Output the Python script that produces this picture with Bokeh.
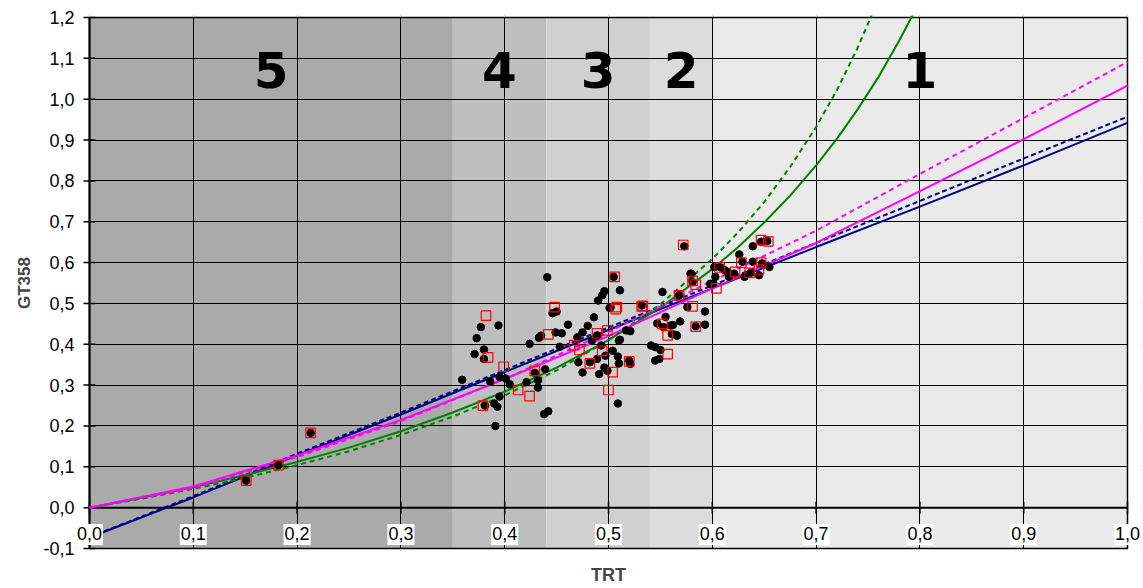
import math
from bokeh.plotting import figure
from bokeh.models import Range1d, FixedTicker, Label, CustomJSTickFormatter
from bokeh.embed import file_html
from bokeh.resources import INLINE

# ---------------- data ----------------
x_ticks = [0.0, 0.1, 0.2, 0.3, 0.4, 0.5, 0.6, 0.7, 0.8, 0.9, 1.0]
x_tick_labels = ["0,0", "0,1", "0,2", "0,3", "0,4", "0,5", "0,6", "0,7", "0,8", "0,9", "1,0"]
y_ticks = [-0.1, 0.0, 0.1, 0.2, 0.3, 0.4, 0.5, 0.6, 0.7, 0.8, 0.9, 1.0, 1.1, 1.2]
y_tick_labels = ["-0,1", "0,0", "0,1", "0,2", "0,3", "0,4", "0,5", "0,6", "0,7", "0,8", "0,9", "1,0", "1,1", "1,2"]

zone_edges = [0.0, 0.35, 0.44, 0.54, 0.60, 1.0]
zone_names = ["5", "4", "3", "2", "1"]

black_x = [0.151, 0.182, 0.213,
           0.359, 0.377, 0.394, 0.373, 0.380, 0.371, 0.380, 0.395, 0.401, 0.386, 0.405, 0.421, 0.432,
           0.439, 0.432, 0.395, 0.390, 0.393, 0.391, 0.438, 0.442, 0.424, 0.433, 0.435, 0.441, 0.446,
           0.450, 0.449, 0.455, 0.453, 0.381, 0.429,
           0.461, 0.470, 0.475, 0.480, 0.486, 0.471, 0.475, 0.482, 0.491, 0.489, 0.496, 0.497, 0.493,
           0.484, 0.489, 0.496, 0.494, 0.490, 0.511, 0.505, 0.501, 0.504, 0.509, 0.510, 0.510, 0.517,
           0.521, 0.521, 0.520, 0.499, 0.509, 0.532, 0.541, 0.545, 0.550, 0.549, 0.545, 0.552, 0.553,
           0.560, 0.561, 0.566, 0.569, 0.502, 0.511, 0.547, 0.562, 0.555, 0.565,
           0.573, 0.579, 0.576, 0.581, 0.593, 0.593, 0.584, 0.568, 0.598, 0.602, 0.608, 0.615, 0.621,
           0.626, 0.629, 0.639, 0.647, 0.639, 0.631, 0.645, 0.655, 0.648, 0.637, 0.653, 0.612, 0.603,
           0.616, 0.601, 0.580]
black_y = [0.066, 0.104, 0.183,
           0.313, 0.442, 0.446, 0.415, 0.387, 0.376, 0.364, 0.320, 0.316, 0.309, 0.302, 0.307, 0.312,
           0.339, 0.294, 0.272, 0.255, 0.247, 0.200, 0.229, 0.236, 0.401, 0.416, 0.421, 0.564, 0.476,
           0.480, 0.429, 0.427, 0.394, 0.250, 0.330,
           0.448, 0.417, 0.429, 0.445, 0.466, 0.356, 0.331, 0.356, 0.327, 0.364, 0.343, 0.372, 0.397,
           0.409, 0.421, 0.530, 0.520, 0.507, 0.532, 0.565, 0.489, 0.384, 0.370, 0.353, 0.409, 0.434,
           0.432, 0.352, 0.360, 0.335, 0.255, 0.495, 0.397, 0.393, 0.386, 0.364, 0.360, 0.528, 0.442,
           0.446, 0.425, 0.421, 0.456, 0.490, 0.411, 0.451, 0.447, 0.467, 0.423,
           0.640, 0.573, 0.491, 0.552, 0.480, 0.448, 0.444, 0.520, 0.548, 0.589, 0.588, 0.577, 0.573,
           0.620, 0.602, 0.640, 0.651, 0.602, 0.565, 0.569, 0.589, 0.598, 0.575, 0.653, 0.581, 0.565,
           0.565, 0.549, 0.572]

red_x = [0.151, 0.182, 0.213,
         0.382, 0.448, 0.442, 0.384, 0.399, 0.429, 0.413, 0.424, 0.379, 0.467, 0.472, 0.489, 0.499,
         0.494, 0.482, 0.504, 0.500, 0.506, 0.508, 0.507, 0.520, 0.532, 0.552, 0.557, 0.557, 0.572,
         0.568, 0.581, 0.584, 0.581, 0.584, 0.604, 0.607, 0.622, 0.628, 0.636, 0.645, 0.647, 0.647,
         0.654, 0.533]
red_y = [0.066, 0.104, 0.183,
         0.470, 0.491, 0.424, 0.368, 0.345, 0.335, 0.288, 0.273, 0.250, 0.398, 0.386, 0.427, 0.434,
         0.384, 0.353, 0.332, 0.288, 0.565, 0.491, 0.486, 0.358, 0.493, 0.450, 0.422, 0.376, 0.643,
         0.520, 0.493, 0.443, 0.555, 0.546, 0.537, 0.588, 0.577, 0.600, 0.575, 0.583, 0.600, 0.655,
         0.652, 0.494]

line_x = [0.0, 0.1, 0.2, 0.3, 0.4, 0.5, 0.6, 0.7, 0.8, 0.9, 1.0]
navy_solid = [-0.073, 0.025, 0.128, 0.228, 0.332, 0.435, 0.537, 0.638, 0.737, 0.838, 0.942]
navy_dash = [-0.072, 0.028, 0.132, 0.233, 0.337, 0.441, 0.544, 0.648, 0.751, 0.855, 0.957]
magenta_solid = [0.0, 0.052, 0.128, 0.215, 0.315, 0.420, 0.537, 0.648, 0.775, 0.902, 1.033]
magenta_dash = [0.0, 0.048, 0.124, 0.212, 0.315, 0.430, 0.555, 0.678, 0.817, 0.954, 1.091]

green_x = [0.0, 0.05, 0.1, 0.15, 0.2, 0.25, 0.3, 0.35, 0.4, 0.45, 0.5, 0.55, 0.6,
           0.625, 0.65, 0.675, 0.7, 0.72, 0.74, 0.76, 0.78, 0.795]
green_solid = [0.0, 0.024, 0.050, 0.080, 0.112, 0.147, 0.187, 0.233, 0.284, 0.343, 0.410, 0.490, 0.584,
               0.638, 0.698, 0.764, 0.838, 0.903, 0.975, 1.054, 1.143, 1.216]
green_dash_x = [0.0, 0.05, 0.1, 0.15, 0.2, 0.25, 0.3, 0.35, 0.4, 0.45, 0.5, 0.55, 0.6,
                0.625, 0.65, 0.675, 0.7, 0.72, 0.74, 0.755]
green_dash = [0.0, 0.022, 0.046, 0.073, 0.104, 0.138, 0.178, 0.223, 0.275, 0.336, 0.410, 0.498, 0.609,
              0.674, 0.748, 0.834, 0.932, 1.022, 1.126, 1.214]

# ---------------- styles / layout ----------------
zone_colors = ["#aaaaaa", "#bebebe", "#d0d0d0", "#dcdcdc", "#eaeaea"]
FONT = "Liberation Sans"

X0, X1 = x_ticks[0], x_ticks[-1]
Y0, Y1 = y_ticks[0], y_ticks[-1]
PAD_X = 14 / 1038.0     # extra frame room (14 px) left and right of the plot area
PAD_Y = 2 / 408.5       # extra frame room (2 px) above and below the plot area
XS, XE = X0 - PAD_X, X1 + PAD_X
YS, YE = Y0 - PAD_Y, Y1 + PAD_Y


def comma_formatter(vals, labels):
    return CustomJSTickFormatter(args=dict(tvals=vals, tlabels=labels), code="""
        for (let i = 0; i < tvals.length; i++) {
            if (Math.abs(tvals[i] - tick) < 1e-9) return tlabels[i];
        }
        return '';
    """)


p = figure(width=1143, height=588,
           x_range=Range1d(XS, XE), y_range=Range1d(YS, YE),
           output_backend="svg", toolbar_location=None,
           min_border_left=75, min_border_right=2, min_border_top=15, min_border_bottom=38)
p.outline_line_color = None
p.background_fill_color = "white"
p.border_fill_color = "white"

# zone bands
p.quad(left=zone_edges[:-1], right=zone_edges[1:], bottom=Y0, top=Y1,
       fill_color=zone_colors, line_color=None, level="image")

# grids
p.xgrid.ticker = FixedTicker(ticks=x_ticks)
p.ygrid.ticker = FixedTicker(ticks=y_ticks)
p.grid.grid_line_color = "black"
p.grid.grid_line_width = 1

# white margins of the frame, outside the plot area (hide grid ends)
p.quad(left=[XS, X1, XS, XS], right=[X0, XE, XE, XE], bottom=[YS, YS, YS, Y1], top=[YE, YE, Y0, YE],
       fill_color="white", line_color=None)

# plot-area border
p.quad(left=[X0], right=[X1], bottom=[Y0], top=[Y1], fill_color=None,
       line_color="black", line_width=1.5)

# y axis: labels from the Bokeh axis at the frame edge, axis line and ticks at x = 0
ya = p.yaxis[0]
ya.ticker = FixedTicker(ticks=y_ticks)
ya.formatter = comma_formatter(y_ticks, y_tick_labels)
ya.major_label_text_font = FONT
ya.major_label_text_font_size = "18px"
ya.major_label_text_color = "black"
ya.major_tick_out = 0
ya.major_tick_in = 0
ya.major_tick_line_color = None
ya.major_label_standoff = 1
ya.axis_line_color = None
ya.minor_tick_line_color = None
ya.axis_label = "GT358"
ya.axis_label_text_font = FONT
ya.axis_label_text_font_style = "bold"
ya.axis_label_text_font_size = "17px"
ya.axis_label_standoff = 6

p.line([X0, X0], [Y0, Y1], line_color="black", line_width=2)
p.scatter([X0] * len(y_ticks), y_ticks, marker="dash", size=12,
          line_color="black", line_width=1.5)

# x axis: labels pulled up into the plot (axis crosses at y = 0)
xa = p.xaxis[0]
xa.ticker = FixedTicker(ticks=x_ticks)
xa.formatter = comma_formatter(x_ticks, x_tick_labels)
xa.major_label_text_font = FONT
xa.major_label_text_font_size = "18px"
xa.major_label_text_color = "black"
xa.major_tick_out = 0
xa.major_tick_in = 0
xa.major_label_standoff = -24
xa.axis_line_color = None
xa.minor_tick_line_color = None
xa.axis_label = "TRT"
xa.axis_label_text_font = FONT
xa.axis_label_text_font_style = "bold"
xa.axis_label_text_font_size = "18px"
xa.axis_label_standoff = 22

# horizontal axis line at y = 0 with tick marks
p.line([X0, X1], [0, 0], line_color="black", line_width=2)
p.scatter(x_ticks, [0] * len(x_ticks), marker="dash", angle=math.pi / 2, size=12,
          line_color="black", line_width=1.5)

# curves
p.line(line_x, navy_solid, line_color="#000080", line_width=2)
p.line(line_x, navy_dash, line_color="#000080", line_width=2, line_dash="5 3")
p.line(green_x, green_solid, line_color="#008000", line_width=2)
p.line(green_dash_x, green_dash, line_color="#008000", line_width=2, line_dash="5 4")
p.line(line_x, magenta_solid, line_color="#ff00ff", line_width=2)
p.line(line_x, magenta_dash, line_color="#ff00ff", line_width=2, line_dash="5 4")

# white boxes behind the x tick labels
p.rect(x=x_ticks, y=[-0.066] * len(x_ticks), width=27, height=21,
       width_units="screen", height_units="screen", fill_color="white", line_color=None)

# points
p.scatter(black_x, black_y, marker="circle", size=7.5, fill_color="black", line_color="black")
p.scatter(red_x, red_y, marker="square", size=9.5, fill_color=None, line_color="#ff0000", line_width=1.2)

# zone numbers
for i, name in enumerate(zone_names):
    cx = (zone_edges[i] + zone_edges[i + 1]) / 2
    p.add_layout(Label(x=cx, y=1.072, text=name, text_font="DejaVu Sans", text_font_style="bold",
                       text_font_size="50px", text_color="black", text_align="center",
                       text_baseline="alphabetic"))

open("out.html", "w").write(file_html(p, INLINE))
